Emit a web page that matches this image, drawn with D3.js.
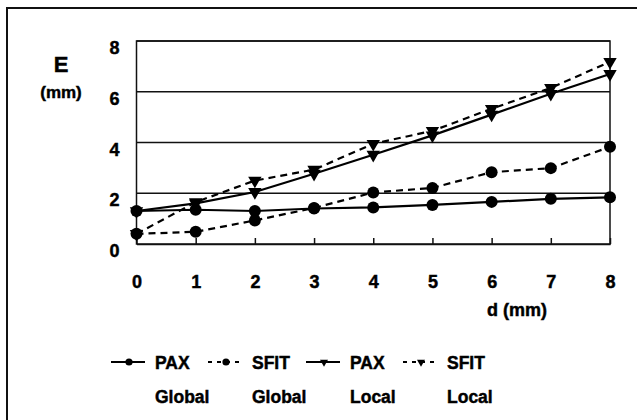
<!DOCTYPE html>
<html>
<head>
<meta charset="utf-8">
<script src="https://cdn.jsdelivr.net/npm/d3@7"></script>
<style>
  body { margin: 0; background: #fff; }
  text { font-family: "Liberation Sans", Arial, sans-serif; font-weight: bold; fill: #000; stroke: #000; stroke-width: 0.45px; }
</style>
</head>
<body>
<svg width="637" height="420"></svg>
<script>
// data
const dValues = [0, 1, 2, 3, 4, 5, 6, 7, 8];
const paxGlobal = [1.3, 1.35, 1.3, 1.4, 1.44, 1.54, 1.66, 1.78, 1.84];
const sfitGlobal = [0.4, 0.48, 0.93, 1.42, 2.03, 2.21, 2.83, 2.99, 3.83];
const paxLocal = [1.3, 1.6, 2.05, 2.77, 3.52, 4.28, 5.1, 5.92, 6.7];
const sfitLocal = [0.4, 1.65, 2.5, 2.93, 3.95, 4.46, 5.33, 6.15, 7.18];
const yTicks = [0, 2, 4, 6, 8];
const legendNames = [['PAX', 'Global'], ['SFIT', 'Global'], ['PAX', 'Local'], ['SFIT', 'Local']];

const series = [
  { values: paxGlobal, dashed: false, marker: 'circle' },
  { values: sfitGlobal, dashed: true, marker: 'circle' },
  { values: paxLocal, dashed: false, marker: 'triangle' },
  { values: sfitLocal, dashed: true, marker: 'triangle' },
];

const svg = d3.select('svg');

// outer frame (runs off the right and bottom edge)
svg.append('rect')
  .attr('x', 7).attr('y', 8)
  .attr('width', 660).attr('height', 440)
  .attr('fill', 'none')
  .attr('stroke', '#111')
  .attr('stroke-width', 2);

const x = d3.scaleLinear().domain([0, 8]).range([136.5, 610]);
const y = d3.scaleLinear().domain([0, 8]).range([244, 41]);

// gridlines
svg.append('g')
  .selectAll('line')
  .data(yTicks.filter(t => t > 0))
  .enter().append('line')
  .attr('x1', x(0)).attr('x2', x(8))
  .attr('y1', d => y(d)).attr('y2', d => y(d))
  .attr('stroke', '#111')
  .attr('stroke-width', 1.5);

// plot box
svg.append('rect')
  .attr('x', x(0)).attr('y', y(8))
  .attr('width', x(8) - x(0)).attr('height', y(0) - y(8))
  .attr('fill', 'none')
  .attr('stroke', '#111')
  .attr('stroke-width', 1.5);

// x axis, ticks point up into the plot
const xAxis = svg.append('g')
  .attr('transform', `translate(0,${y(0)})`)
  .call(d3.axisBottom(x).tickValues(dValues).tickSizeInner(-6).tickSizeOuter(0).tickPadding(31));
xAxis.select('.domain').attr('stroke', '#111').attr('stroke-width', 1.5);
xAxis.selectAll('.tick line').attr('stroke', '#111').attr('stroke-width', 1.5);
xAxis.selectAll('text')
  .attr('font-size', 18)
  .attr('font-family', '"Liberation Sans", Arial, sans-serif')
  .attr('font-weight', 'bold');

// y axis labels
const yAxis = svg.append('g')
  .attr('transform', `translate(${x(0)},0)`)
  .call(d3.axisLeft(y).tickValues(yTicks).tickSize(0).tickPadding(17));
yAxis.select('.domain').remove();
yAxis.selectAll('text')
  .attr('font-size', 18)
  .attr('font-family', '"Liberation Sans", Arial, sans-serif')
  .attr('font-weight', 'bold')
  .attr('dy', '0.7em');

// axis titles
svg.append('text').attr('x', 61).attr('y', 72)
  .attr('text-anchor', 'middle').attr('font-size', 22).text('E');
svg.append('text').attr('x', 61).attr('y', 98)
  .attr('text-anchor', 'middle').attr('font-size', 17).text('(mm)');
svg.append('text').attr('x', 517).attr('y', 316)
  .attr('text-anchor', 'middle').attr('font-size', 18).text('d (mm)');

const line = d3.line()
  .x((v, i) => x(dValues[i]))
  .y(v => y(v));

function drawMarker(g, type, cx, cy, scale) {
  if (type === 'circle') {
    g.append('circle').attr('cx', cx).attr('cy', cy).attr('r', 6 * scale).attr('fill', '#000');
  } else {
    g.append('path')
      .attr('d', d3.symbol().type(d3.symbolTriangle).size(78 * scale * scale)())
      .attr('transform', `translate(${cx},${cy}) rotate(180)`)
      .attr('fill', '#000');
  }
}

series.forEach(s => {
  const g = svg.append('g');
  g.append('path')
    .attr('d', line(s.values))
    .attr('fill', 'none')
    .attr('stroke', '#000')
    .attr('stroke-width', 2.2)
    .attr('stroke-dasharray', s.dashed ? '7,5' : null);
  s.values.forEach((v, i) => drawMarker(g, s.marker, x(dValues[i]), y(v), 1));
});

// legend
const legendX = [155, 252, 350, 447];
const legendY = 369;
series.forEach((s, i) => {
  const g = svg.append('g');
  const tx = legendX[i];
  g.append('line')
    .attr('x1', tx - 44).attr('x2', tx - 10)
    .attr('y1', legendY - 7).attr('y2', legendY - 7)
    .attr('stroke', '#000')
    .attr('stroke-width', 2)
    .attr('stroke-dasharray', s.dashed ? '4,5' : null);
  drawMarker(g, s.marker, tx - 26, legendY - 7, 0.6);
  g.append('text').attr('x', tx).attr('y', legendY).attr('font-size', 17.5).text(legendNames[i][0]);
  g.append('text').attr('x', tx).attr('y', legendY + 34).attr('font-size', 17.5).text(legendNames[i][1]);
});
</script>
</body>
</html>
